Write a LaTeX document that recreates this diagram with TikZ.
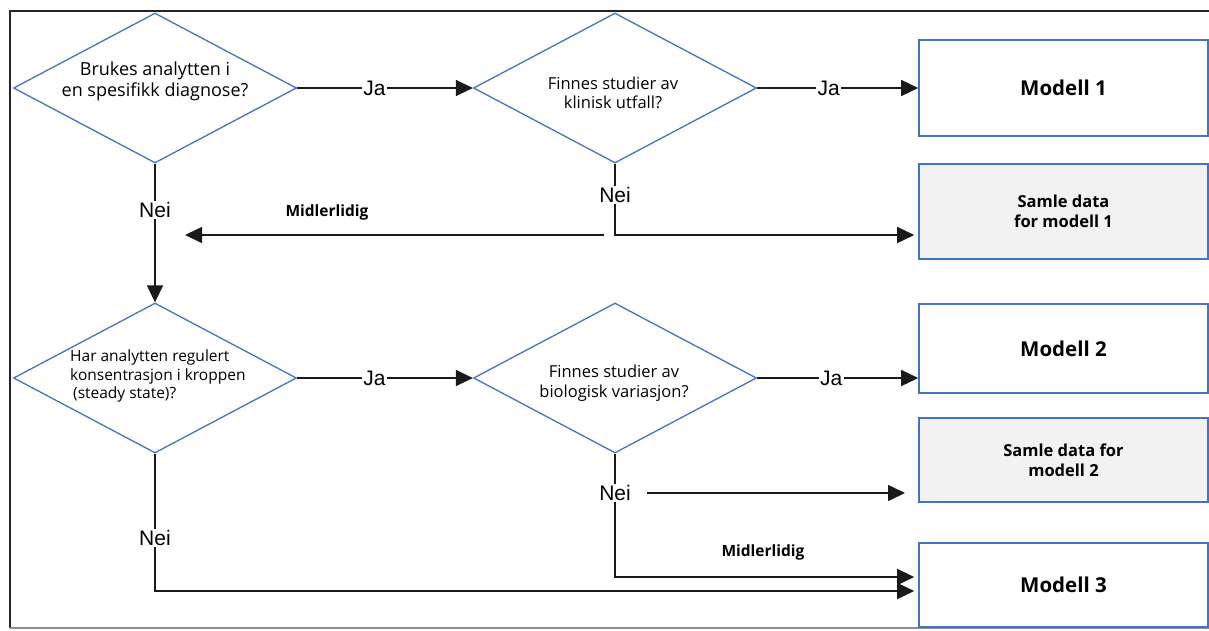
\documentclass[tikz,border=0pt]{standalone}
\usepackage{fontspec}
\setmainfont{Open Sans}
\newfontfamily\arialf{Liberation Sans}
\usetikzlibrary{shapes.geometric,arrows.meta,calc}
\definecolor{dblue}{HTML}{4472C4}
\definecolor{boxgray}{HTML}{F2F2F2}
\definecolor{linec}{HTML}{1A1A1A}
\begin{document}
\begin{tikzpicture}[x=1pt,y=-1pt,
  decision/.style={draw=dblue, line width=1.3pt, diamond, inner sep=0pt, minimum width=283pt, minimum height=150pt},
  qtext/.style={align=center, inner sep=0pt},
  outbox/.style={draw=dblue, line width=1.6pt, rectangle, minimum width=289pt, inner sep=0pt, align=center, font=\bfseries\fontsize{20.5}{24}\selectfont},
  grayfill/.style={fill=boxgray, font=\bfseries\fontsize{16.5}{20}\selectfont},
  flow/.style={draw=linec, line width=1.5pt, -{Triangle[length=17pt,width=16pt]}},
  yn/.style={font=\arialf\fontsize{21}{24}\selectfont, fill=white, inner sep=1.5pt},
  midl/.style={font=\bfseries\fontsize{15.5}{18}\selectfont, inner sep=0pt}
]
\useasboundingbox (0,0) rectangle (1209,630);
\draw[line width=2.5pt, color=black!85] (1209,11) -- (10,11) -- (10,628);
\draw[line width=1.5pt, color=black!45] (10,628) -- (1209,628);

% decisions
\node[decision] (d1) at (155,88) {};
\node[qtext, font=\fontsize{18}{21}\selectfont] (t1) at (155,81) {Brukes analytten i\\en spesifikk diagnose?};
\node[decision] (d2) at (615,88) {};
\node[qtext, font=\fontsize{16.5}{19.5}\selectfont] (t2) at (613,93) {Finnes studier av\\klinisk utfall?};
\node[decision] (d3) at (155,378) {};
\node[qtext, align=left, anchor=west, font=\fontsize{15.5}{18.7}\selectfont] (t3) at (70,376) {Har analytten regulert\\konsentrasjon i kroppen\\\hspace*{3pt}(steady state)?};
\node[decision] (d4) at (615,378) {};
\node[qtext, font=\fontsize{16.5}{20}\selectfont] (t4) at (614,383) {Finnes studier av\\biologisk variasjon?};

% outcome boxes
\node[outbox, minimum height=96pt] (m1) at (1063.5,88) {Modell 1};
\node[outbox, grayfill, minimum height=95pt] (s1) at (1063.5,211.5) {Samle data\\for modell 1};
\node[outbox, minimum height=89pt] (m2) at (1063.5,348.5) {Modell 2};
\node[outbox, grayfill, minimum height=84pt] (s2) at (1063.5,460) {Samle data for\\modell 2};
\node[outbox, minimum height=84pt] (m3) at (1063.5,585) {Modell 3};

% top row
\draw[flow] (d1.east) -- node[yn, pos=0.44] (ja1) {Ja} (d2.west);
\draw[flow] (d2.east) -- node[yn, pos=0.445] (ja2) {Ja} (m1.west);
\draw[flow] (d1.south) -- node[yn, pos=0.336] (nei1) {Nei} (d3.north);

% clinical outcome: no
\coordinate (c2) at (615,235);
\draw[flow, shorten >=4pt] (d2.south) -- node[yn, pos=0.44] (nei2) {Nei} (c2) -- (c2 -| s1.west);
\coordinate (ml1s) at (604,235);
\coordinate (ml1e) at (185,235);
\draw[flow] (ml1s) -- (ml1e);
\node[midl] (ml1) at (327,212) {Midlerlidig};

% second row
\draw[flow] (d3.east) -- node[yn, pos=0.44] (ja3) {Ja} (d4.west);
\draw[flow] (d4.east) -- node[yn, pos=0.46] (ja4) {Ja} (d4.east -| m2.west);

% biological variation: no
\coordinate (c4) at (615,577);
\draw[flow, shorten >=4pt] (d4.south) -- (c4) -- (c4 -| m3.west);
\node[yn] (nei4) at (615,493) {Nei};
\coordinate (a4s) at (647,493);
\coordinate (a4e) at (905,493);
\draw[flow] (a4s) -- (a4e);
\node[midl] (ml2) at (763,552) {Midlerlidig};

% steady state: no
\coordinate (c3) at (155,591);
\draw[flow, shorten >=4pt] (d3.south) -- (c3) -- (c3 -| m3.west);
\node[yn] (nei3) at (155,538) {Nei};
\end{tikzpicture}
\end{document}
